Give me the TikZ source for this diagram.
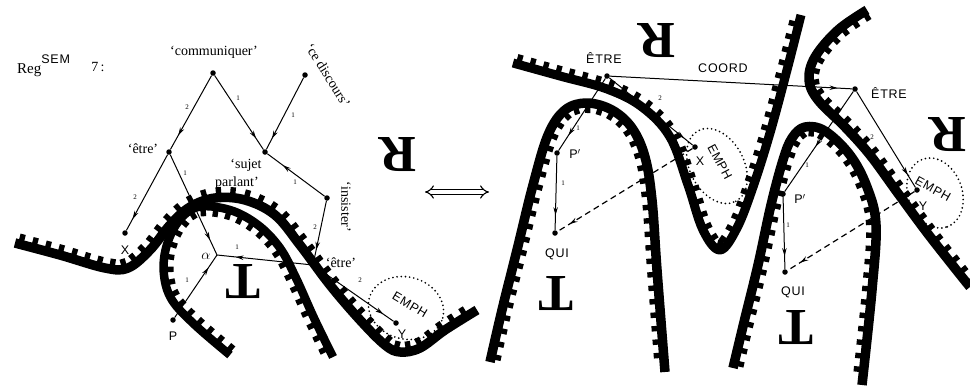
\documentclass[tikz,border=0pt]{standalone}
\usepackage{fontspec}
\setmainfont{Liberation Serif}
\newfontfamily\lsans[LetterSpace=6]{Liberation Sans}
\usetikzlibrary{decorations.markings,arrows.meta}
\begin{document}
\begin{tikzpicture}[x=1pt,y=-1pt,
  dot/.style={circle,fill,inner sep=0pt,minimum size=5.5pt},
  edge/.style={line width=1pt},
  dashedge/.style={line width=1.2pt,dash pattern=on 6pt off 4pt},
  midarrow/.style={postaction={decorate,decoration={markings,mark=at position #1 with {\arrow{Stealth[length=8pt,width=4.5pt]}}}}},
  ridge/.style={line width=#1,line join=round,line cap=butt},
  teeth/.style={postaction={decorate,decoration={markings,mark=between positions 0.01 and 0.99 step 13.5pt with {\fill (-2.7pt,0pt) rectangle (2.7pt,#1);}}}},
  lbl/.style={font=\fontsize{14}{14}\selectfont,inner sep=0pt},
  num/.style={font=\fontsize{7}{7}\selectfont,inner sep=0pt},
  slbl/.style={font=\lsans\fontsize{12.5}{12.5}\selectfont,inner sep=0pt},
  big/.style={font=\fontsize{52}{52}\selectfont\bfseries,inner sep=0pt,rotate=180},
  dotline/.style={line width=1.9pt,dash pattern=on 0pt off 4.2pt,line cap=round}
]
\useasboundingbox (0,0) rectangle (970,389);

% ---------- thick ridges ----------
% left panel
\draw[ridge=9.5pt,teeth=10.5pt] plot[smooth,tension=0.6] coordinates {(15,243) (60,255) (105,268) (128,268) (150,250) (170,225) (190,207) (215,198) (245,200) (275,215) (300,245) (330,285) (360,320) (385,345) (400,352) (420,348) (445,330) (477,310)};
\draw[ridge=8.5pt,teeth=-10pt] plot[smooth,tension=0.6] coordinates {(230,355) (195,325) (172,300) (164,275) (166,248) (178,222) (198,207) (230,210) (258,225) (280,248) (296,278) (314,318) (333,357)};
% right panel
\draw[ridge=9pt,teeth=10pt] plot[smooth,tension=0.6] coordinates {(513,63) (560,76) (607,89) (642,107) (670,137) (688,185) (703,230) (720,250) (737,228) (753,187) (770,133) (787,70) (801,15)};
\draw[ridge=9.5pt,teeth=-10pt] plot[smooth,tension=0.6] coordinates {(490,362) (502,310) (517,250) (533,185) (548,135) (565,110) (587,103) (612,110) (632,128) (645,157) (652,200) (657,270) (665,372)};
\draw[ridge=9.5pt,teeth=-10pt] plot[smooth,tension=0.6] coordinates {(733,368) (745,318) (758,265) (771,205) (783,160) (792,138) (805,127) (825,131) (850,155) (867,187) (876,225) (872,290) (862,385)};
\draw[ridge=9.5pt,teeth=10pt] plot[smooth,tension=0.6] coordinates {(867,10) (838,30) (815,57) (809,80) (818,100) (845,127) (870,155) (897,192) (925,230) (950,262) (970,287)};

% ---------- EMPH regions ----------
\draw[dotline,rotate around={-15:(406,308)}] (406,308) ellipse [x radius=38pt,y radius=31pt];
\draw[dotline,rotate around={-62:(717,166)}] (717,166) ellipse [x radius=40pt,y radius=27pt];
\draw[dotline,rotate around={-70:(935,193)}] (935,193) ellipse [x radius=36pt,y radius=27pt];

% ---------- left panel nodes ----------
\node[dot] (comm) at (213,73) {};
\node[dot] (disc) at (305,75) {};
\node[dot] (etre1) at (169,152) {};
\node[dot] (subj) at (265,152) {};
\node[dot] (insis) at (327,198) {};
\node[dot] (etre2) at (313,265) {};
\node[dot] (X) at (125,233) {};
\node[dot] (Y) at (396,323) {};
\coordinate (alpha) at (217,255);
\node[dot] (P) at (173,320) {};

\draw[edge,midarrow=0.81] (comm) -- (etre1);
\draw[edge,midarrow=0.85] (comm) -- (subj);
\draw[edge,midarrow=0.85] (disc) -- (subj);
\draw[edge,midarrow=0.73] (insis) -- (subj);
\draw[edge,midarrow=0.8] (insis) -- (etre2);
\draw[edge,midarrow=0.85] (etre1) -- (X);
\draw[edge,midarrow=0.85] (etre1) -- (alpha);
\draw[edge,midarrow=0.8] (P) -- (alpha);
\draw[edge,midarrow=0.8] (etre2) -- (alpha);
\draw[edge,midarrow=0.87] (etre2) -- (Y);

\node[lbl,anchor=base west] (reg) at (17,73) {\fontsize{15}{15}\selectfont Reg\raisebox{10pt}{\lsans\fontsize{12.5}{12.5}\selectfont SEM}};
\node[lbl] (seven) at (98,67) {7\,:};
\node[lbl] (lcomm) at (214,52) {`communiquer'};
\node[lbl,rotate=-58] (ldisc) at (328,75) {`ce discours'};
\node[lbl] (letre1) at (143,149) {`être'};
\node[lbl] (lsuj1) at (246,165) {`sujet};
\node[lbl] (lsuj2) at (237,183) {parlant'};
\node[lbl,rotate=-90] (linsis) at (346,207) {`insister'};
\node[lbl] (letre2) at (341,263) {`être'};
\node[slbl] (lX) at (125,250) {X};
\node[slbl] (lY) at (402,334) {Y};
\node[slbl] (lP) at (173,336) {P};
\node[lbl] (lalpha) at (206,256) {$\alpha$};
\node[slbl,rotate=-31] (lemph1) at (410,305) {EMPH};

\node[num] at (187,107) {2};
\node[num] at (238,98) {1};
\node[num] at (293,115) {1};
\node[num] at (295,182) {1};
\node[num] at (315,227) {2};
\node[num] at (135,197) {2};
\node[num] at (185,173) {1};
\node[num] at (187,280) {1};
\node[num] at (237,247) {1};
\node[num] at (360,280) {2};

\node[big] (bigR1) at (398,155) {R};
\node[big] (bigT1) at (243,282) {T};

% ---------- double arrow ----------
\draw[line width=1.1pt,double distance=3.5pt,{Implies[length=6pt]}-{Implies[length=6pt]}] (425,192) -- (489,192);

% ---------- right panel nodes ----------
\node[dot] (etreL) at (607,76) {};
\node[dot] (etreR) at (855,89) {};
\node[dot] (Xr) at (695,147) {};
\node[dot] (P1) at (557,153) {};
\node[dot] (Q1) at (555,233) {};
\node[dot] (Yr) at (917,190) {};
\node[dot] (P2) at (783,194) {};
\node[dot] (Q2) at (785,272) {};

\draw[edge,midarrow=0.94] (etreL) -- (etreR);
\draw[edge,midarrow=0.9] (etreL) -- (Xr);
\draw[edge,midarrow=0.79] (etreL) -- (P1);
\draw[edge,midarrow=0.8] (P1) -- (Q1);
\draw[dashedge,midarrow=0.91] (Xr) -- (Q1);
\draw[edge,midarrow=0.87] (etreR) -- (Yr);
\draw[edge,midarrow=0.55] (etreR) -- (P2);
\draw[edge,midarrow=0.82] (P2) -- (Q2);
\draw[dashedge,midarrow=0.9] (Yr) -- (Q2);

\node[slbl] (lEL) at (604,58) {ÊTRE};
\node[slbl] (lcoord) at (723,68) {COORD};
\node[slbl] (lER) at (889,93) {ÊTRE};
\node[slbl] (lXr) at (700,161) {X};
\node[slbl] (lP1) at (575,154) {P$'$};
\node[slbl] (lQ1) at (557,254) {QUI};
\node[slbl,rotate=-62] (lemph2) at (720,162) {EMPH};
\node[slbl] (lP2) at (800,199) {P$'$};
\node[slbl] (lQ2) at (793,292) {QUI};
\node[slbl] (lYr) at (923,206) {Y};
\node[slbl,rotate=-29] (lemph3) at (933,189) {EMPH};

\node[num] at (660,98) {2};
\node[num] at (578,128) {1};
\node[num] at (563,183) {1};
\node[num] at (872,137) {2};
\node[num] at (807,165) {1};
\node[num] at (788,225) {1};

\node[big] (bigR2) at (657,41) {R};
\node[big] (bigT2) at (556,294) {T};
\node[big] (bigT3) at (796,328) {T};
\node[big] (bigR3) at (948,135) {R};
\end{tikzpicture}
\end{document}
